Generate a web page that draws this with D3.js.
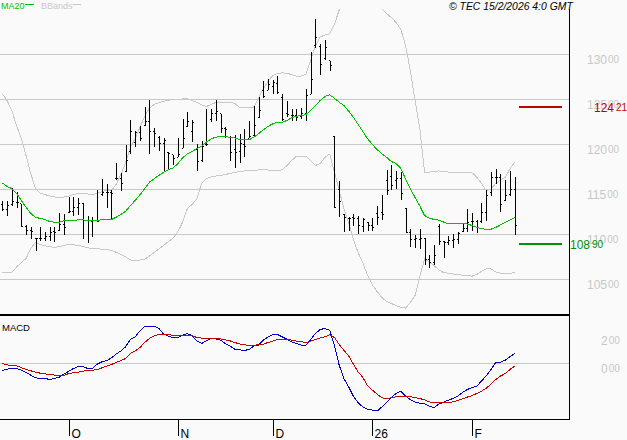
<!DOCTYPE html>
<html>
<head>
<meta charset="utf-8">
<title>MA20 BBands MACD</title>
<script src="https://d3js.org/d3.v7.min.js"></script>
<style>
  html, body { margin: 0; padding: 0; background: #fafafa; overflow: hidden; }
  svg { display: block; font-family: "Liberation Sans", Arial, sans-serif; }
</style>
</head>
<body>
<svg id="chart" width="627" height="440"></svg>
<script>
// price bars, one per trading day
const highs = [113.67,113.67,115.14,114.70,113.44,111.11,110.81,109.63,110.78,110.26,110.78,110.81,112.44,112.30,114.22,114.14,114.08,113.52,112.11,111.92,114.97,116.19,115.56,114.97,117.97,116.81,119.89,122.67,121.48,122.11,124.22,124.89,121.86,121.00,120.74,119.14,118.78,120.67,122.78,123.59,122.67,120.11,120.44,123.89,124.00,124.89,123.44,121.92,121.00,121.11,121.22,121.67,122.59,124.33,125.33,127.11,127.30,127.22,127.56,125.56,124.78,123.89,123.97,124.11,126.19,130.26,133.89,131.19,131.56,129.33,120.92,115.89,112.30,112.00,112.30,112.11,111.78,111.37,111.78,113.22,114.44,117.19,117.67,117.11,116.92,112.97,110.56,109.97,110.63,109.63,107.67,108.78,111.19,109.26,109.81,110.08,110.33,111.26,112.78,112.41,111.63,113.52,114.89,117.00,117.30,116.74,116.11,117.11,116.37];
const lows = [112.59,112.11,113.22,112.89,110.81,110.00,109.48,108.22,109.33,109.26,109.33,109.14,110.44,109.89,112.37,112.11,112.19,109.52,109.03,109.70,111.37,114.33,112.97,111.74,116.11,114.81,116.89,119.00,119.70,120.44,122.11,119.00,119.70,119.33,116.89,117.33,117.67,118.56,119.56,121.92,120.26,117.03,118.03,119.81,122.48,122.56,121.33,120.67,118.22,117.44,117.89,118.59,120.67,120.81,122.92,125.19,126.08,125.63,125.63,122.59,123.03,122.59,122.59,122.86,122.59,125.56,130.74,127.74,129.44,128.22,112.97,111.92,110.33,110.44,111.00,110.08,110.26,110.44,110.37,111.11,111.56,114.41,114.97,115.08,113.78,110.19,108.59,108.48,108.41,106.56,106.26,106.63,108.78,107.37,108.78,108.52,108.97,110.26,110.26,110.44,110.14,111.26,111.48,114.33,115.63,112.48,113.70,114.33,109.97];
const opens = [113.3,112.8,113.3,113.6,113.4,110.9,110.5,109.6,109.6,109.6,109.8,110.3,110.5,111.1,112.4,112.6,113.0,113.4,111.6,111.5,111.6,114.5,114.7,114.7,116.2,116.2,117.0,119.2,120.2,121.3,122.1,122.6,121.4,120.8,120.1,119.1,118.9,118.6,119.6,122.0,121.5,119.5,118.2,120.0,122.8,123.4,123.4,121.8,120.8,119.5,119.2,120.0,120.7,121.0,123.0,126.0,126.0,126.5,126.8,125.2,123.5,123.2,123.2,123.1,123.5,125.6,131.0,130.9,129.6,129.3,120.9,115.0,112.2,111.8,111.9,111.8,110.9,111.3,111.0,112.3,112.5,116.0,116.4,116.0,116.2,112.9,110.2,109.4,109.5,109.6,107.2,106.9,110.9,109.2,109.1,109.3,109.4,110.3,110.7,111.4,111.4,111.5,112.4,114.7,116.3,116.3,113.8,114.4,115.0];
const closes = [112.78,113.22,113.67,113.56,110.89,110.44,110.33,109.56,109.56,109.78,110.26,110.26,111.11,110.81,112.56,113.03,113.44,111.56,111.56,111.56,111.44,114.70,114.67,114.59,116.22,115.67,118.22,121.44,121.33,120.67,122.56,121.44,121.22,120.11,120.44,119.00,118.44,118.89,120.67,122.56,122.44,118.11,119.78,120.00,123.44,123.67,121.81,121.67,119.11,119.11,120.11,119.78,120.89,122.11,123.78,125.33,126.67,126.89,125.78,122.78,123.33,123.22,123.03,123.48,125.44,127.19,131.86,128.89,130.74,128.78,113.00,113.67,111.89,111.78,111.78,111.00,111.67,111.00,110.78,111.89,112.22,114.89,115.44,116.22,114.56,110.22,109.44,109.56,109.56,107.22,106.89,107.67,109.22,109.11,109.33,109.44,110.11,110.67,111.33,111.44,110.78,112.44,114.33,116.33,116.33,113.33,114.33,115.00,111.00];

// overlays
const ma20 = [115.74,115.33,115.11,114.56,113.78,113.03,112.33,111.92,111.78,111.67,111.44,111.37,111.37,111.52,111.56,111.56,111.63,111.63,111.52,111.52,111.59,111.63,111.63,111.67,111.92,112.22,112.59,113.22,113.78,114.41,115.08,115.81,116.19,116.56,116.92,117.19,117.41,117.86,118.52,118.97,119.22,119.56,119.78,120.26,120.63,120.81,120.89,120.86,120.81,120.74,120.56,120.52,120.52,120.81,121.19,121.63,122.00,122.30,122.48,122.48,122.67,122.97,123.14,123.22,123.33,123.78,124.33,124.89,125.33,125.52,125.14,124.70,124.33,123.70,123.03,122.22,121.44,120.63,120.00,119.44,118.97,118.59,118.11,117.89,117.33,116.17,115.06,114.11,113.17,112.11,111.83,111.67,111.59,111.39,111.19,111.19,111.19,111.19,111.17,111.00,110.81,110.63,110.59,110.59,110.78,111.06,111.33,111.61,111.86];
const bbUpper = [125.63,124.89,123.78,122.11,120.67,118.78,116.78,115.11,114.56,114.44,114.28,114.17,114.08,114.17,114.28,114.44,114.56,114.59,114.50,114.41,114.56,114.78,114.89,114.89,115.56,116.67,118.00,119.67,120.67,121.89,123.11,124.06,124.44,124.67,124.81,124.91,125.00,125.03,125.06,125.06,124.89,124.67,124.39,124.22,124.44,124.67,124.70,124.67,124.67,124.56,124.11,124.06,124.11,124.17,125.11,126.22,127.00,127.67,127.89,127.97,127.89,127.78,127.59,127.61,127.78,129.33,131.00,131.94,132.17,132.30,133.33,134.94,135.67,136.56,137.11,137.33,137.11,136.67,135.78,135.44,135.06,134.56,134.11,133.56,132.78,131.00,128.22,124.89,121.78,116.89,116.94,117.00,117.06,117.00,116.94,116.94,116.89,116.89,116.89,116.86,116.37,115.67,114.89,115.06,115.67,116.06,116.33,117.30,118.06];
const bbLower = [105.81,105.81,105.81,106.37,106.89,107.33,108.44,109.14,108.89,108.74,108.63,108.59,108.63,108.78,108.89,108.86,108.78,108.67,108.52,108.44,108.41,108.37,108.33,108.22,108.03,107.78,107.50,107.17,107.11,107.17,107.22,107.61,108.00,108.39,108.78,109.22,109.61,110.33,111.33,112.89,113.33,113.97,115.67,116.22,116.39,116.50,116.56,116.67,116.78,116.89,117.00,117.06,117.11,117.11,117.17,117.17,117.17,117.11,117.11,117.19,117.67,118.22,118.70,118.70,118.70,118.22,117.67,117.89,118.56,118.94,116.92,114.89,112.89,111.33,109.44,108.00,106.83,105.44,104.39,103.67,103.00,102.56,102.33,102.11,101.89,101.83,102.44,103.22,105.33,107.28,106.94,106.56,106.06,105.78,105.70,105.61,105.53,105.48,105.44,105.37,105.56,105.89,106.19,106.19,105.83,105.72,105.70,105.70,105.74];

// lower panel
const macdLine = [-0.50,-0.40,-0.36,-0.36,-0.48,-0.64,-0.83,-1.02,-1.07,-1.07,-1.14,-1.07,-0.98,-0.76,-0.55,-0.36,-0.21,-0.21,-0.36,-0.36,-0.05,0.12,0.21,0.40,0.67,0.90,1.19,1.74,1.90,2.33,2.67,2.67,2.67,2.50,2.10,1.95,1.86,1.86,2.02,2.14,1.98,1.62,1.43,1.62,1.79,1.76,1.67,1.43,1.24,1.02,0.98,0.93,1.00,1.24,1.31,1.67,1.90,2.07,2.07,1.90,1.74,1.55,1.43,1.31,1.31,1.71,2.14,2.43,2.50,2.38,1.31,-0.12,-1.07,-1.67,-2.33,-2.81,-3.10,-3.26,-3.33,-3.40,-3.10,-2.79,-2.43,-2.14,-1.98,-2.33,-2.57,-2.76,-2.83,-2.88,-3.05,-3.14,-2.90,-2.76,-2.62,-2.50,-2.33,-2.07,-1.86,-1.71,-1.62,-1.26,-0.88,-0.43,0.07,0.10,0.24,0.48,0.71];
const signalLine = [0.00,-0.10,-0.14,-0.17,-0.29,-0.43,-0.52,-0.62,-0.69,-0.74,-0.79,-0.83,-0.86,-0.86,-0.71,-0.67,-0.62,-0.55,-0.50,-0.48,-0.43,-0.31,-0.19,-0.07,0.07,0.21,0.36,0.71,0.90,1.14,1.50,1.79,1.98,2.07,2.07,2.05,2.02,2.00,2.00,1.98,1.98,1.86,1.81,1.76,1.76,1.76,1.76,1.69,1.62,1.50,1.40,1.33,1.31,1.31,1.33,1.38,1.50,1.60,1.71,1.71,1.71,1.67,1.60,1.55,1.50,1.60,1.71,1.83,1.90,2.05,1.86,1.36,0.95,0.55,-0.05,-0.60,-1.00,-1.60,-1.90,-2.19,-2.45,-2.50,-2.45,-2.38,-2.36,-2.33,-2.38,-2.43,-2.50,-2.60,-2.74,-2.79,-2.79,-2.79,-2.79,-2.74,-2.64,-2.52,-2.40,-2.29,-2.14,-1.98,-1.76,-1.48,-1.14,-0.90,-0.71,-0.43,-0.19];

// axis labels
const priceTicks = [130, 125, 120, 115, 110, 105];
const macdTicks = [2, 0];
const monthLabels = ["O", "N", "D", "26", "F"];
const monthIndex = [14, 37, 57, 78, 99];

// levels drawn to the right of the last bar
const resistance = 124.21;
const support = 108.90;

const svg = d3.select("#chart");

const x = d3.scaleLinear().domain([0, highs.length - 1]).range([2.3, 514.7]);
const y = d3.scaleLinear().domain([105, 130]).range([279.5, 54.5]);
const yMacd = d3.scaleLinear().domain([0, 2]).range([363.5, 335.5]);

const plotRight = 569.5;
const gray = "#c8c8c8";
const pad = (v) => (v < 10 ? "0" : "") + v;

svg.append("defs").append("clipPath").attr("id", "plot")
  .append("rect").attr("x", 0).attr("y", 9).attr("width", plotRight).attr("height", 304);

// grid
svg.append("g").selectAll("line").data(priceTicks).join("line")
  .attr("x1", 0).attr("x2", plotRight)
  .attr("y1", d => y(d)).attr("y2", d => y(d))
  .attr("stroke", gray).attr("shape-rendering", "crispEdges");
svg.append("line")
  .attr("x1", 0).attr("x2", plotRight)
  .attr("y1", yMacd(0)).attr("y2", yMacd(0))
  .attr("stroke", gray).attr("shape-rendering", "crispEdges");

const plot = svg.append("g").attr("clip-path", "url(#plot)");

function addLine(parent, values, scale, color) {
  const line = d3.line().x((d, i) => x(i)).y(d => scale(d));
  parent.append("path")
    .attr("d", line(values))
    .attr("fill", "none")
    .attr("stroke", color)
    .attr("stroke-width", 1)
    .attr("shape-rendering", "crispEdges");
}

addLine(plot, bbUpper, y, gray);
addLine(plot, bbLower, y, gray);

// OHLC bars
const bars = plot.append("g").attr("stroke", "#000").attr("shape-rendering", "crispEdges");
highs.forEach((h, i) => {
  const bx = Math.round(x(i)) + 0.5;
  bars.append("line").attr("x1", bx).attr("x2", bx).attr("y1", y(h)).attr("y2", y(lows[i]));
  bars.append("line").attr("x1", bx - 1.5).attr("x2", bx - 0.5).attr("y1", y(opens[i])).attr("y2", y(opens[i]));
  bars.append("line").attr("x1", bx + 0.5).attr("x2", bx + 1.5).attr("y1", y(closes[i])).attr("y2", y(closes[i]));
});

addLine(plot, ma20, y, "#00c000");

// MACD panel
addLine(svg, macdLine, yMacd, "#0000c8");
addLine(svg, signalLine, yMacd, "#c80000");

// frame
svg.append("line").attr("x1", plotRight).attr("x2", plotRight).attr("y1", 9).attr("y2", 420)
  .attr("stroke", "#000").attr("shape-rendering", "crispEdges");
svg.append("line").attr("x1", 0).attr("x2", plotRight).attr("y1", 315).attr("y2", 315)
  .attr("stroke", "#000").attr("stroke-width", 2).attr("shape-rendering", "crispEdges");
svg.append("line").attr("x1", 0).attr("x2", plotRight).attr("y1", 419.5).attr("y2", 419.5)
  .attr("stroke", "#000").attr("shape-rendering", "crispEdges");

// month ticks
monthIndex.forEach((m, i) => {
  const tx = Math.round(x(m)) + 0.5;
  svg.append("line").attr("x1", tx).attr("x2", tx).attr("y1", 420).attr("y2", 436)
    .attr("stroke", "#000").attr("shape-rendering", "crispEdges");
  svg.append("text").attr("x", tx + 2).attr("y", 437.5).attr("font-size", 12).text(monthLabels[i]);
});

// value label: whole part big, two decimals small
function addValue(px, py, whole, dec, color, gap = 1) {
  const t = svg.append("text").attr("x", px).attr("y", py).attr("fill", color).attr("font-size", 12);
  t.append("tspan").text(whole);
  t.append("tspan").attr("dx", gap).attr("dy", -1).attr("font-size", 10).text(dec);
}

priceTicks.forEach(p => addValue(587, y(p) + 9, p, "00", gray));
macdTicks.forEach(v => addValue(601, yMacd(v) + 9, v, "00", gray));

// support / resistance levels
[[resistance, "#c00000"], [support, "#009000"]].forEach(([level, color]) => {
  svg.append("line").attr("x1", 519).attr("x2", 562).attr("y1", y(level)).attr("y2", y(level))
    .attr("stroke", color).attr("stroke-width", 2).attr("shape-rendering", "crispEdges");
});
const split = (v) => [Math.floor(v), pad(Math.round((v % 1) * 100))];
addValue(594, y(resistance) + 5, ...split(resistance), "#c00000", 2);
addValue(570, y(support) + 5, ...split(support), "#009000", 2);

// legends
svg.append("text").attr("x", 1).attr("y", 8.5).attr("font-size", 9).attr("fill", "#00c000").text("MA20");
svg.append("line").attr("x1", 25).attr("x2", 34).attr("y1", 4.5).attr("y2", 4.5).attr("stroke", "#00c000").attr("shape-rendering", "crispEdges");
svg.append("text").attr("x", 41).attr("y", 8.5).attr("font-size", 9).attr("fill", gray).text("BBands");
svg.append("line").attr("x1", 73).attr("x2", 81).attr("y1", 4.5).attr("y2", 4.5).attr("stroke", gray).attr("shape-rendering", "crispEdges");
svg.append("text").attr("x", 449).attr("y", 9.5).attr("font-size", 10.4).attr("font-style", "italic").attr("fill", "#000").text("© TEC 15/2/2026 4:0 GMT");
svg.append("text").attr("x", 2).attr("y", 331).attr("font-size", 9.5).attr("fill", "#000").text("MACD");
</script>
</body>
</html>
